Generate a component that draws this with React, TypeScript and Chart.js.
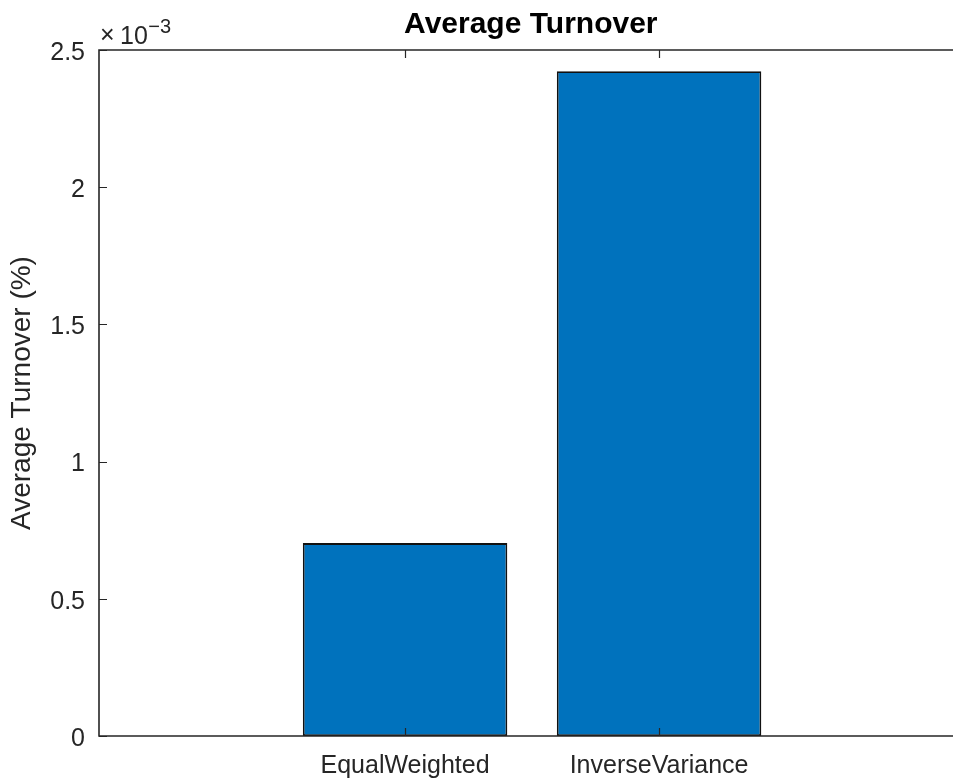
import React, { useEffect, useRef } from 'react';
import { Chart, registerables } from 'chart.js';

Chart.register(...registerables);

// ---- data ----
const categories = ['EqualWeighted', 'InverseVariance'];
const categoryPositions = [1, 2];
const turnover = [0.000703, 0.002423];
const yTicks = [0, 0.0005, 0.001, 0.0015, 0.002, 0.0025];
const yTickLabels = ['0', '0.5', '1', '1.5', '2', '2.5'];
const titleText = 'Average Turnover';
const yAxisTitle = 'Average Turnover (%)';
const exponentTimes = '×';
const exponentBase = '10';
const exponentPower = '−3';
const xMin = -0.205;
const xMax = 3.195;

const FONT = '"Liberation Sans", Arial, Helvetica, sans-serif';
const AXIS_COLOR = '#262626';
const BAR_COLOR = '#0072BD';

const matlabAxes = {
  id: 'matlabAxes',
  afterDatasetsDraw(chart: any) {
    const { ctx, chartArea, scales } = chart;
    const { left, right, top, bottom } = chartArea;
    const x = scales.x;
    const y = scales.y;
    ctx.save();
    ctx.strokeStyle = AXIS_COLOR;
    ctx.lineWidth = 1.6;
    ctx.beginPath();
    ctx.moveTo(right, top);
    ctx.lineTo(left, top);
    ctx.lineTo(left, bottom);
    ctx.lineTo(right, bottom);
    ctx.stroke();

    const tl = 8;
    ctx.lineWidth = 1.2;
    ctx.beginPath();
    x.ticks.forEach((t: any) => {
      const px = Math.round(x.getPixelForValue(t.value)) + 0.5;
      ctx.moveTo(px, top);
      ctx.lineTo(px, top + tl);
      ctx.moveTo(px, bottom);
      ctx.lineTo(px, bottom - tl);
    });
    y.ticks.forEach((t: any) => {
      const py = Math.round(y.getPixelForValue(t.value)) + 0.5;
      ctx.moveTo(left, py);
      ctx.lineTo(left + tl, py);
      ctx.moveTo(right, py);
      ctx.lineTo(right - tl, py);
    });
    ctx.stroke();

    // exponent label
    ctx.fillStyle = AXIS_COLOR;
    ctx.textBaseline = 'alphabetic';
    ctx.textAlign = 'left';
    const bx = left + 1;
    const by = top - 6;
    ctx.font = `25px ${FONT}`;
    ctx.fillText(exponentTimes, bx, by - 1);
    ctx.fillText(exponentBase, bx + 20, by);
    const w = ctx.measureText(exponentBase).width;
    ctx.font = `20px ${FONT}`;
    ctx.fillText(exponentPower, bx + 20 + w + 0.5, by - 11);
    ctx.restore();
  },
};

export default function App() {
  const ref = useRef<HTMLCanvasElement>(null);

  useEffect(() => {
    const canvas = ref.current;
    if (!canvas) return;
    const chart = new Chart(canvas, {
      type: 'bar',
      data: {
        datasets: [
          {
            data: categoryPositions.map((p, i) => ({ x: p, y: turnover[i] })),
            backgroundColor: BAR_COLOR,
            borderColor: '#111111',
            borderWidth: 1.8,
            borderSkipped: false,
            barPercentage: 0.805,
            categoryPercentage: 1,
          } as any,
        ],
      },
      options: {
        responsive: false,
        animation: false,
        devicePixelRatio: 1,
        layout: { padding: { left: 0, right: 7.4, top: 0, bottom: 0 } },
        plugins: {
          legend: { display: false },
          tooltip: { enabled: false },
          title: {
            display: true,
            text: titleText,
            fullSize: false,
            color: '#000000',
            font: { family: FONT, size: 30, weight: 'bold' },
            padding: { top: 6.5, bottom: 7.5 },
          },
        },
        scales: {
          x: {
            type: 'linear',
            min: xMin,
            max: xMax,
            offset: false,
            bounds: 'data',
            grid: { display: false, drawTicks: false, offset: false },
            border: { display: false },
            afterBuildTicks: (s: any) => {
              s.ticks = categoryPositions.map((v) => ({ value: v }));
            },
            afterFit: (s: any) => {
              s.height = 43;
            },
            ticks: {
              callback: (v: any) => {
                const i = categoryPositions.indexOf(Number(v));
                return i >= 0 ? categories[i] : '';
              },
              color: AXIS_COLOR,
              font: { family: FONT, size: 25 },
              padding: 15.5,
              maxRotation: 0,
              autoSkip: false,
            },
          },
          y: {
            type: 'linear',
            min: 0,
            max: 0.0025,
            grid: { display: false, drawTicks: false },
            border: { display: false },
            afterBuildTicks: (s: any) => {
              s.ticks = yTicks.map((v) => ({ value: v }));
            },
            afterFit: (s: any) => {
              s.width = 99;
            },
            ticks: {
              callback: (_v: any, i: number) => yTickLabels[i],
              color: AXIS_COLOR,
              font: { family: FONT, size: 25 },
              padding: 14,
              labelOffset: 3,
              autoSkip: false,
            },
            title: {
              display: true,
              text: yAxisTitle,
              color: AXIS_COLOR,
              font: { family: FONT, size: 28 },
              padding: { top: 5, bottom: 0 },
            },
          },
        },
      } as any,
      plugins: [matlabAxes],
    });
    return () => chart.destroy();
  }, []);

  return (
    <div
      style={{
        position: 'fixed',
        left: 0,
        top: 0,
        width: 953,
        height: 779,
        overflow: 'hidden',
        background: '#ffffff',
      }}
    >
      <canvas ref={ref} width={970} height={779} style={{ display: 'block' }} />
    </div>
  );
}
